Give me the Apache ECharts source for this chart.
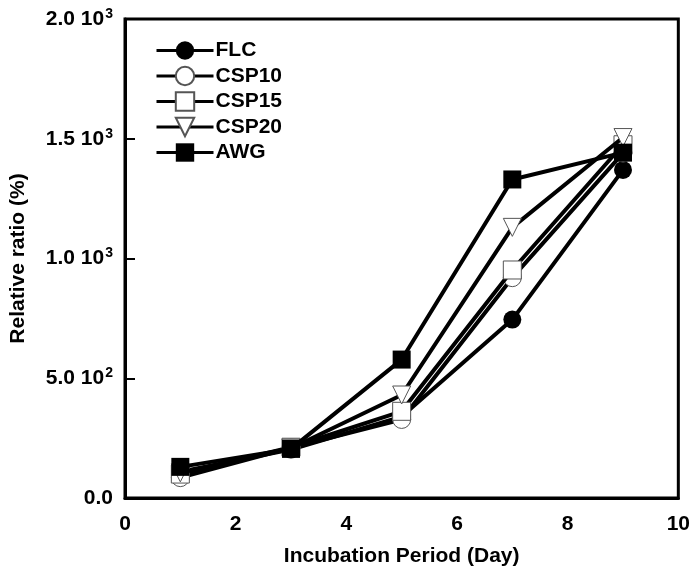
<!DOCTYPE html>
<html><head><meta charset="utf-8">
<script src="https://cdn.jsdelivr.net/npm/echarts@6/dist/echarts.min.js"></script>
<style>html,body{margin:0;padding:0;background:#fff}#c{width:693px;height:572px}</style>
</head><body><div id="c"></div>
<script>
const days = [1, 3, 5, 7, 9];
const seriesNames = ['FLC', 'CSP10', 'CSP15', 'CSP20', 'AWG'];
const FLC   = [110, 202, 340, 745, 1370];
const CSP10 = [85, 210, 328, 920, 1440];
const CSP15 = [100, 212, 362, 952, 1475];
const CSP20 = [105, 208, 430, 1130, 1505];
const AWG   = [130, 205, 578, 1330, 1442];
const xTicks = [0, 2, 4, 6, 8, 10];
const yTickLabels = {0: ['0.0', ''], 500: ['5.0 10', '2'], 1000: ['1.0 10', '3'], 1500: ['1.5 10', '3'], 2000: ['2.0 10', '3']};

const FONT = 'Arial, "Liberation Sans", sans-serif';
const values = [FLC, CSP10, CSP15, CSP20, AWG];
const styles = [
  {symbol: 'circle', fill: '#000', border: '#000', bw: 0, rot: 0, size: 18},
  {symbol: 'circle', fill: '#fff', border: '#555', bw: 1, rot: 0, size: 18},
  {symbol: 'rect', fill: '#fff', border: '#555', bw: 1, rot: 0, size: 18},
  {symbol: 'triangle', fill: '#fff', border: '#555', bw: 1, rot: 180, size: 18},
  {symbol: 'rect', fill: '#000', border: '#000', bw: 0, rot: 0, size: 18}
];

const series = seriesNames.map((n, i) => ({
  name: n,
  type: 'line',
  data: days.map((d, j) => [d, values[i][j]]),
  symbol: styles[i].symbol,
  symbolSize: styles[i].size,
  symbolRotate: styles[i].rot,
  showAllSymbol: true,
  lineStyle: {color: '#000', width: 4},
  itemStyle: {color: styles[i].fill, borderColor: styles[i].border, borderWidth: styles[i].bw, opacity: 1},
  emphasis: {disabled: true},
  animation: false,
  z: 2 + i
}));

const chart = echarts.init(document.getElementById('c'), null, {renderer: 'canvas'});
chart.setOption({
  backgroundColor: '#fff',
  animation: false,
  grid: {left: 124, right: 13, top: 19, bottom: 73, show: true, borderColor: '#000', borderWidth: 3, backgroundColor: 'transparent'},
  legend: {
    orient: 'vertical', left: 150, top: 35,
    itemWidth: 57, itemHeight: 23, itemGap: 4.5,
    data: seriesNames,
    lineStyle: {width: 3, color: '#000'},
    textStyle: {fontFamily: FONT, fontWeight: 'bold', fontSize: 21, color: '#000', padding: [0, 0, 0, -3]},
    selectedMode: false
  },
  xAxis: {
    type: 'value', min: 0, max: 10, interval: 2,
    name: 'Incubation Period (Day)', nameLocation: 'middle', nameGap: 48,
    nameTextStyle: {fontFamily: FONT, fontWeight: 'bold', fontSize: 21, color: '#000'},
    axisLine: {show: true, onZero: false, lineStyle: {color: '#000', width: 3}},
    axisTick: {show: false},
    splitLine: {show: false},
    axisLabel: {fontFamily: FONT, fontWeight: 'bold', fontSize: 21, color: '#000', margin: 16,
      formatter: v => xTicks.includes(v) ? String(v) : ''}
  },
  yAxis: {
    type: 'value', min: 0, max: 2000, interval: 500,
    name: 'Relative ratio (%)', nameLocation: 'middle', nameGap: 96,
    nameTextStyle: {fontFamily: FONT, fontWeight: 'bold', fontSize: 21, color: '#000'},
    axisLine: {show: true, lineStyle: {color: '#000', width: 3}},
    axisTick: {show: true, inside: true, length: 10, lineStyle: {color: '#000', width: 2}},
    splitLine: {show: false},
    axisLabel: {margin: 12,
      formatter: v => { const t = yTickLabels[v]; if (!t) return ''; return t[1] ? '{a|' + t[0] + '}{s|' + t[1] + '}' : '{a|' + t[0] + '}'; },
      rich: {
        a: {fontFamily: FONT, fontWeight: 'bold', fontSize: 21, color: '#000', lineHeight: 24},
        s: {fontFamily: FONT, fontWeight: 'bold', fontSize: 14, color: '#000', verticalAlign: 'top', lineHeight: 24, padding: [0, 0, 20, 1]}
      }
    }
  },
  series: series
});
</script>
</body></html>
